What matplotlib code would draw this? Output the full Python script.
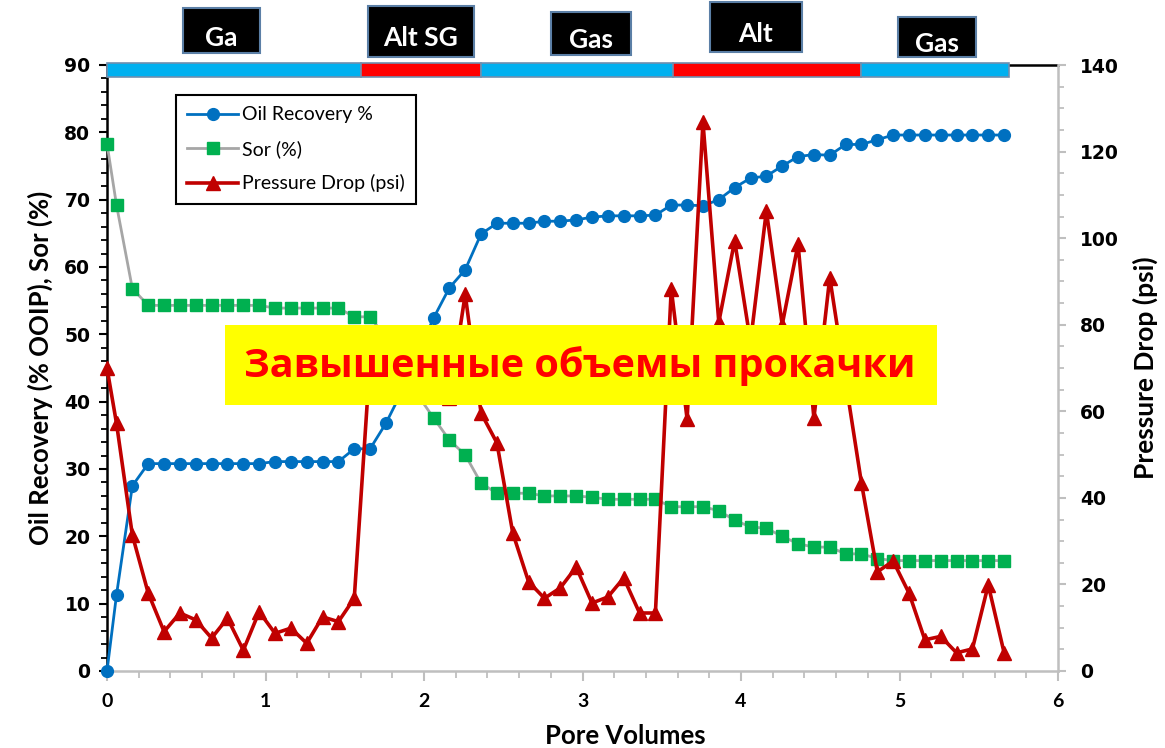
#!/usr/bin/env python3
"""
plot.py - Oil recovery, residual oil (Sor) and pressure drop vs. injected pore volumes
for an alternating gas / SG flood. Writes out.png.
"""

import matplotlib.pyplot as plt
from matplotlib.lines import Line2D
from matplotlib.patches import Rectangle
from matplotlib.ticker import MultipleLocator

# injected pore volumes at each measurement
PORE_VOLUMES = [
    0.00, 0.06, 0.16, 0.26, 0.36, 0.46, 0.56, 0.66, 0.76, 0.86,
    0.96, 1.06, 1.16, 1.26, 1.36, 1.46, 1.56, 1.66, 1.76, 1.86,
    1.96, 2.06, 2.16, 2.26, 2.36, 2.46, 2.56, 2.66, 2.76, 2.86,
    2.96, 3.06, 3.16, 3.26, 3.36, 3.46, 3.56, 3.66, 3.76, 3.86,
    3.96, 4.06, 4.16, 4.26, 4.36, 4.46, 4.56, 4.66, 4.76, 4.86,
    4.96, 5.06, 5.16, 5.26, 5.36, 5.46, 5.56, 5.66,
]

# oil recovery, % OOIP
OIL_RECOVERY = [
    0.0, 11.3, 27.5, 30.8, 30.8, 30.8, 30.8, 30.8, 30.8, 30.8,
    30.8, 31.1, 31.1, 31.1, 31.1, 31.1, 33.0, 33.0, 36.8, 41.5,
    47.0, 52.4, 56.9, 59.6, 64.9, 66.5, 66.5, 66.5, 66.8, 66.8,
    67.0, 67.4, 67.6, 67.6, 67.6, 67.7, 69.2, 69.2, 69.1, 70.0,
    71.8, 73.2, 73.5, 75.0, 76.4, 76.7, 76.6, 78.2, 78.2, 78.9,
    79.6, 79.6, 79.6, 79.6, 79.6, 79.6, 79.6, 79.6,
]

# residual oil saturation, %
SOR = [
    78.3, 69.2, 56.8, 54.3, 54.3, 54.3, 54.3, 54.3, 54.3, 54.3,
    54.3, 53.9, 53.9, 53.9, 53.9, 53.9, 52.6, 52.6, 49.5, 45.5,
    41.0, 37.6, 34.3, 32.1, 27.9, 26.4, 26.4, 26.4, 26.0, 26.0,
    26.0, 25.8, 25.5, 25.5, 25.5, 25.5, 24.4, 24.4, 24.4, 23.8,
    22.4, 21.4, 21.2, 20.0, 18.9, 18.4, 18.4, 17.4, 17.4, 16.7,
    16.4, 16.4, 16.4, 16.4, 16.4, 16.4, 16.4, 16.4,
]

# pressure drop across the core, psi
PRESSURE_DROP = [
    70.0, 57.2, 31.4, 18.0, 9.1, 13.4, 11.8, 7.6, 12.2, 4.8,
    13.7, 8.7, 9.9, 6.4, 12.5, 11.4, 16.8, 72.0, 74.0, 70.0,
    66.0, 64.0, 63.0, 87.0, 59.6, 52.7, 31.9, 20.6, 16.8, 19.2,
    24.0, 15.7, 17.1, 21.5, 13.4, 13.4, 88.3, 58.2, 126.8, 80.6,
    99.4, 76.0, 106.3, 80.0, 98.6, 58.4, 90.9, 67.0, 43.4, 22.9,
    25.4, 18.0, 7.2, 8.0, 4.2, 5.1, 19.9, 4.2,
]

# injection phases (pore-volume boundaries) shown as a strip along the top
PHASE_NAMES = ["Ga", "Alt SG", "Gas", "Alt", "Gas"]
PHASE_EDGES = [0.0, 1.60, 2.36, 3.57, 4.76, 5.69]
PHASE_KIND = ["gas", "alt", "gas", "alt", "gas"]

NOTE = "Завышенные объемы прокачки"

W, H = 1165, 748
BLUE, GREEN, GREY, RED = "#0070C0", "#00B050", "#A6A6A6", "#C00000"
AXIS_GREY = "#BFBFBF"
LATIN = ["Lato", "DejaVu Sans"]


def fig_box(x0, y0, x1, y1):
    """pixel box (top-left origin) -> figure fraction [left, bottom, w, h]"""
    return [x0 / W, 1 - y1 / H, (x1 - x0) / W, (y1 - y0) / H]


def main():
    fig = plt.figure(figsize=(W / 100, H / 100), dpi=100)
    ax = fig.add_axes(fig_box(107, 65, 1058, 671))
    ax2 = ax.twinx()

    # left axis series
    ax.plot(PORE_VOLUMES, OIL_RECOVERY, color=BLUE, lw=2.0, marker="o",
            ms=8.5, mfc=BLUE, mec=BLUE, zorder=3, clip_on=False)
    ax.plot(PORE_VOLUMES, SOR, color=GREY, lw=2.0, marker="s",
            ms=8.5, mfc=GREEN, mec=GREEN, zorder=3, clip_on=False)
    # right axis series
    ax2.plot(PORE_VOLUMES, PRESSURE_DROP, color=RED, lw=2.6, marker="^",
             ms=10, mfc=RED, mec=RED, zorder=3, clip_on=False)

    ax.set_xlim(0, 6)
    ax.set_ylim(0, 90)
    ax2.set_ylim(0, 140)

    ax.xaxis.set_major_locator(MultipleLocator(1))
    ax.xaxis.set_minor_locator(MultipleLocator(0.2))
    ax.yaxis.set_major_locator(MultipleLocator(10))
    ax.yaxis.set_minor_locator(MultipleLocator(2))
    ax2.yaxis.set_major_locator(MultipleLocator(20))
    ax2.yaxis.set_minor_locator(MultipleLocator(5))

    ax.tick_params(axis="y", which="major", direction="out", length=6, width=1.5,
                   color="black", pad=6)
    ax.tick_params(axis="y", which="minor", direction="out", length=4, width=1.3,
                   color="black")
    ax.tick_params(axis="x", which="major", direction="out", length=7, width=1.5,
                   color=AXIS_GREY, pad=9)
    ax.tick_params(axis="x", which="minor", direction="out", length=5, width=1.3,
                   color=AXIS_GREY)
    ax2.tick_params(axis="y", which="major", direction="out", length=6, width=1.5,
                    color=AXIS_GREY, pad=10)
    ax2.tick_params(axis="y", which="minor", direction="out", length=4, width=1.3,
                    color=AXIS_GREY)

    for lab in ax.get_yticklabels() + ax2.get_yticklabels():
        lab.set_fontfamily("DejaVu Sans")
        lab.set_fontweight("bold")
        lab.set_fontsize(13.5)
    for lab in ax.get_xticklabels():
        lab.set_fontfamily(LATIN)
        lab.set_fontweight("bold")
        lab.set_fontsize(14)

    ax.spines["left"].set_color("black")
    ax.spines["left"].set_linewidth(1.8)
    ax.spines["top"].set_color("black")
    ax.spines["top"].set_linewidth(1.8)
    ax.spines["bottom"].set_color(AXIS_GREY)
    ax.spines["bottom"].set_linewidth(1.8)
    ax.spines["right"].set_visible(False)
    ax2.spines["right"].set_color(AXIS_GREY)
    ax2.spines["right"].set_linewidth(1.8)
    for s in ("left", "top", "bottom"):
        ax2.spines[s].set_visible(False)

    ax.set_xlabel("Pore Volumes", family=LATIN, fontsize=18.5, fontweight="bold",
                  labelpad=10)
    ax.xaxis.set_label_coords(0.545, -0.087)
    ax.set_ylabel("Oil Recovery (% OOIP), Sor (%)", family=LATIN, fontsize=18.5,
                  fontweight="bold", labelpad=8)
    ax2.set_ylabel("Pressure Drop (psi)", family=LATIN, fontsize=19,
                   fontweight="bold", labelpad=10)

    # phase strip along the top edge
    strip_colors = {"gas": "#00B0F0", "alt": "#FF0000"}
    for i, kind in enumerate(PHASE_KIND):
        left, right = PHASE_EDGES[i], PHASE_EDGES[i + 1]
        ax.add_patch(Rectangle((left, 88.2), right - left, 2.1,
                               facecolor=strip_colors[kind], edgecolor="#6F8FAF",
                               lw=1.2, zorder=5, clip_on=False))

    # phase labels in black boxes above the plot
    label_boxes = [(183, 8, 260, 53), (368, 6, 474, 57), (551, 12, 631, 55),
                   (710, 2, 802, 52), (898, 17, 976, 57)]
    for name, (x0, y0, x1, y1) in zip(PHASE_NAMES, label_boxes):
        fig.patches.append(Rectangle((x0 / W, 1 - y1 / H), (x1 - x0) / W,
                                     (y1 - y0) / H, transform=fig.transFigure,
                                     facecolor="black", edgecolor="#5B7FA6",
                                     lw=1.5))
        fig.text((x0 + x1) / 2 / W, 1 - ((y0 + y1) / 2 + 7) / H, name,
                 color="white", family=LATIN, fontsize=19, fontweight="bold",
                 ha="center", va="center")

    handles = [
        Line2D([], [], color=BLUE, lw=2.0, marker="o", ms=8.5, mfc=BLUE, mec=BLUE),
        Line2D([], [], color=GREY, lw=2.0, marker="s", ms=8.5, mfc=GREEN, mec=GREEN),
        Line2D([], [], color=RED, lw=2.6, marker="^", ms=10, mfc=RED, mec=RED),
    ]
    leg = ax2.legend(handles, ["Oil Recovery %", "Sor (%)", "Pressure Drop (psi)"],
                     loc="upper left", bbox_to_anchor=(166 / W, 1 - 85 / H),
                     bbox_transform=fig.transFigure, prop={"family": LATIN, "size": 14},
                     frameon=True, fancybox=False, framealpha=1, edgecolor="black",
                     handlelength=2.6, handletextpad=0.2, labelspacing=0.85,
                     borderpad=0.6)
    leg.get_frame().set_linewidth(1.5)
    leg.set_zorder(10)

    # highlighted note over the middle of the chart
    fig.patches.append(Rectangle((225 / W, 1 - 405 / H), 712 / W, 80 / H,
                                 transform=fig.transFigure, facecolor="#FFFF00",
                                 edgecolor="none", zorder=20))
    fig.text(580 / W, 1 - 366 / H, NOTE, color="#FF0000",
             family=["Open Sans", "DejaVu Sans"], fontsize=28.5, fontweight="bold",
             ha="center", va="center", zorder=21)

    fig.savefig("out.png", dpi=100)
    plt.close(fig)


if __name__ == "__main__":
    main()
